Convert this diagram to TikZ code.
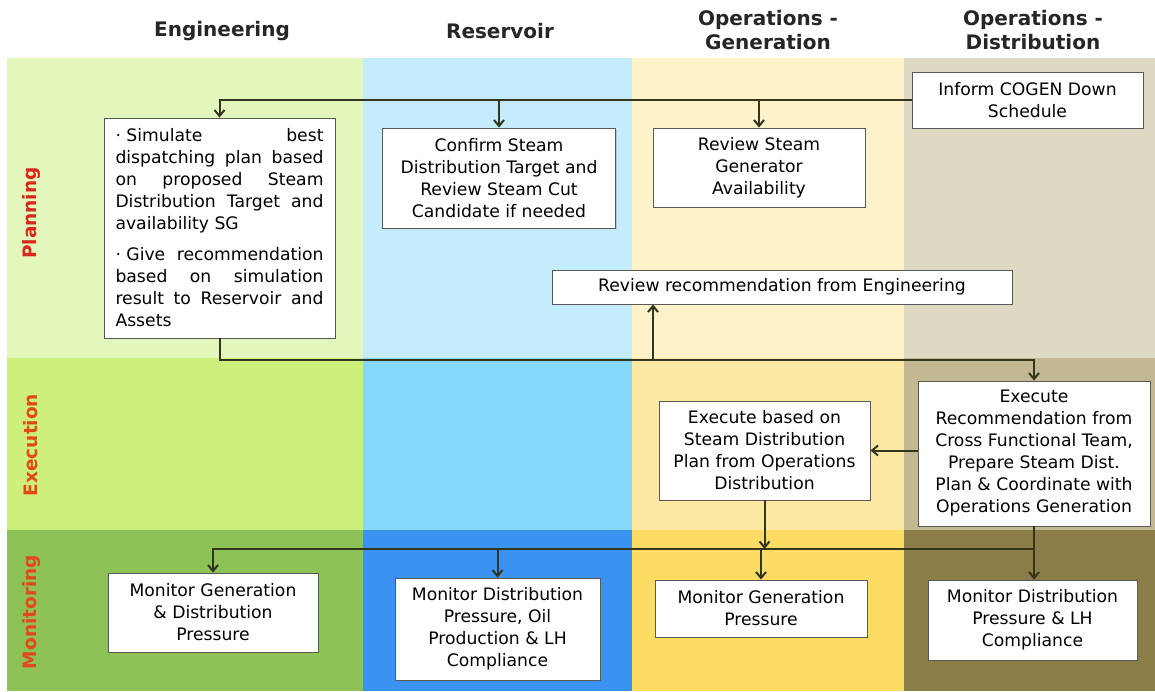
\documentclass[tikz,border=0pt]{standalone}
\usepackage{fontspec}
\setmainfont{DejaVu Sans}
\usepackage{tikz}
\usetikzlibrary{arrows.meta,calc,shadows}
\usepackage{xcolor}

\definecolor{engPlan}{HTML}{E3F7BC}
\definecolor{engExec}{HTML}{CDF07C}
\definecolor{engMon}{HTML}{8DC257}
\definecolor{resPlan}{HTML}{C4ECFC}
\definecolor{resExec}{HTML}{86D8FA}
\definecolor{resMon}{HTML}{3A93F0}
\definecolor{genPlan}{HTML}{FDF2C8}
\definecolor{genExec}{HTML}{FDE8A2}
\definecolor{genMon}{HTML}{FDDC64}
\definecolor{disPlan}{HTML}{DDD9C2}
\definecolor{disExec}{HTML}{C2B993}
\definecolor{disMon}{HTML}{8B7D48}
\definecolor{phaseRed}{HTML}{D8281A}
\definecolor{phaseOrange}{HTML}{E4481A}
\definecolor{flowInk}{HTML}{33351F}

\newcommand{\laneBoxFont}{\fontsize{17.2}{22}\selectfont}
\newcommand{\laneHeadFont}{\fontsize{20}{24}\selectfont\bfseries}
\newcommand{\phaseFont}{\fontsize{18.5}{22}\selectfont\bfseries}
\newcommand{\justLine}[1]{\makebox[208pt][s]{#1}}

\tikzset{
    laneBox/.style={
        draw=black!65,
        fill=white,
        line width=0.9pt,
        align=center,
        font=\laneBoxFont,
        inner sep=0pt,
        drop shadow={shadow xshift=1.2pt, shadow yshift=-1.2pt, opacity=0.3}
    },
    headText/.style={font=\laneHeadFont, align=center, text=black!85},
    phaseText/.style={font=\phaseFont, rotate=90},
    flowLine/.style={draw=flowInk, line width=2pt},
    flowArrow/.style={flowLine, -{Straight Barb[length=6pt,width=10pt]}},
}

\begin{document}
\begin{tikzpicture}[x=1pt, y=-1pt]
    % canvas
    \fill[white] (0,0) rectangle (1155,691);
    \useasboundingbox (0,0) rectangle (1155,691);

    % lane backgrounds
    \fill[engPlan] (7,58) rectangle (363,358);
    \fill[engExec] (7,358) rectangle (363,530);
    \fill[engMon] (7,530) rectangle (363,691);
    \fill[resPlan] (363,58) rectangle (632,358);
    \fill[resExec] (363,358) rectangle (632,530);
    \fill[resMon] (363,530) rectangle (632,691);
    \fill[genPlan] (632,58) rectangle (904,358);
    \fill[genExec] (632,358) rectangle (904,530);
    \fill[genMon] (632,530) rectangle (904,691);
    \fill[disPlan] (904,58) rectangle (1155,358);
    \fill[disExec] (904,358) rectangle (1155,530);
    \fill[disMon] (904,530) rectangle (1155,691);

    % column heads
    \node[headText] (hEng) at (222,31) {Engineering};
    \node[headText] (hRes) at (500,31) {Reservoir};
    \node[headText] (hGen) at (768,30) {Operations -\\Generation};
    \node[headText] (hDis) at (1033,30) {Operations -\\Distribution};

    % phase labels
    \node[phaseText, text=phaseRed] (pPlan) at (31,213) {Planning};
    \node[phaseText, text=phaseOrange] (pExec) at (31,445) {Execution};
    \node[phaseText, text=phaseOrange] (pMon) at (31,612) {Monitoring};

    % planning boxes
    \node[laneBox, minimum width=231pt, minimum height=220pt, align=left] (eng) at (219.5,228) {%
        \justLine{\mbox{· Simulate} best}\\
        \justLine{dispatching plan based}\\
        \justLine{on proposed Steam}\\
        \justLine{Distribution Target and}\\
        availability SG\\[9pt]
        \justLine{\mbox{· Give} recommendation}\\
        \justLine{based on simulation}\\
        \justLine{result to Reservoir and}\\
        Assets};
    \node[laneBox, minimum width=233pt, minimum height=100pt] (confirm) at (499,178) {Confirm Steam\\Distribution Target and\\Review Steam Cut\\Candidate if needed};
    \node[laneBox, minimum width=212pt, minimum height=79pt] (reviewSG) at (759,167.5) {Review Steam\\Generator\\Availability};
    \node[laneBox, minimum width=231pt, minimum height=56pt] (inform) at (1027.5,100) {Inform COGEN Down\\Schedule};
    \node[laneBox, minimum width=460pt, minimum height=34pt] (reviewRec) at (782,287) {Review recommendation from Engineering};

    % execution boxes
    \node[laneBox, minimum width=211pt, minimum height=99pt] (execGen) at (764.5,450.5) {Execute based on\\Steam Distribution\\Plan from Operations\\Distribution};
    \node[laneBox, minimum width=232pt, minimum height=145pt] (execDist) at (1034,453.5) {Execute\\Recommendation from\\Cross Functional Team,\\Prepare Steam Dist.\\Plan \& Coordinate with\\Operations Generation};

    % monitoring boxes
    \node[laneBox, minimum width=210pt, minimum height=79pt] (monEng) at (213,612.5) {Monitor Generation\\\& Distribution\\Pressure};
    \node[laneBox, minimum width=205pt, minimum height=102pt] (monRes) at (497.5,629) {Monitor Distribution\\Pressure, Oil\\Production \& LH\\Compliance};
    \node[laneBox, minimum width=212pt, minimum height=57pt] (monGen) at (761,608.5) {Monitor Generation\\Pressure};
    \node[laneBox, minimum width=209pt, minimum height=80pt] (monDist) at (1032.5,620) {Monitor Distribution\\Pressure \& LH\\Compliance};

    % buses
    \coordinate (planBus) at (653,360);
    \coordinate (monBus) at (0,549);

    % planning feed
    \draw[flowArrow] (inform.west) -| (eng.north);
    \draw[flowArrow] (confirm.north |- inform.west) -- (confirm.north);
    \draw[flowArrow] (reviewSG.north |- inform.west) -- (reviewSG.north);

    % planning to execution
    \draw[flowArrow] (eng.south) |- (planBus -| execDist.north) -- (execDist.north);
    \draw[flowArrow] (planBus) -- (planBus |- reviewRec.south);
    \draw[flowArrow] (execDist.west |- execGen.east) -- (execGen.east);

    % execution to monitoring
    \draw[flowArrow] (execGen.south) -- (execGen.south |- monBus);
    \draw[flowArrow] (execDist.south) -- (execDist.south |- monDist.north);
    \draw[flowArrow] (execDist.south |- monBus) -| (monEng.north);
    \draw[flowArrow] (monRes.north |- monBus) -- (monRes.north);
    \draw[flowArrow] (monGen.north |- monBus) -- (monGen.north);
\end{tikzpicture}
\end{document}
